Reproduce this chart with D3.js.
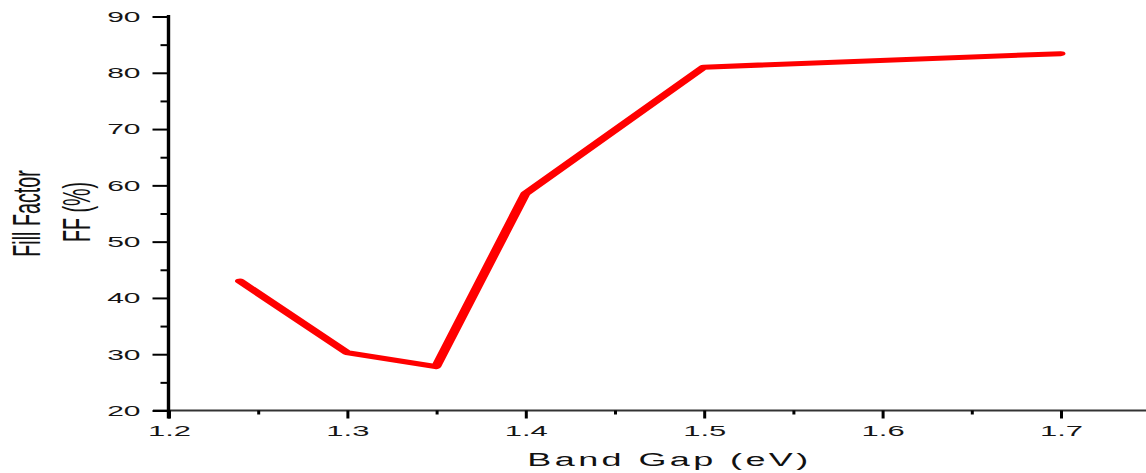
<!DOCTYPE html>
<html>
<head>
<meta charset="utf-8">
<script src="https://cdn.jsdelivr.net/npm/d3@7"></script>
<style>
  body { margin: 0; background: #fff; }
  svg { display: block; }
  text { font-family: "Liberation Sans", Arial, sans-serif; }
</style>
</head>
<body>
<svg id="chart" width="1146" height="473"></svg>
<script>
// Fill factor vs. band gap
const bandGap    = [1.24, 1.30, 1.35, 1.40, 1.50, 1.70];
const fillFactor = [43.0, 30.3, 27.8, 58.5, 81.0, 83.4];

const xTicks      = [1.2, 1.3, 1.4, 1.5, 1.6, 1.7];
const xMinorTicks = [1.25, 1.35, 1.45, 1.55, 1.65, 1.75];
const yTicks      = [20, 30, 40, 50, 60, 70, 80, 90];
const yMinorTicks = [25, 35, 45, 55, 65, 75, 85];

const xTitle  = "Band Gap (eV)";
const yTitle1 = "Fill Factor";
const yTitle2 = "FF (%)";

const svg = d3.select("#chart");

// The plot is laid out at half width and stretched horizontally.
const stretch = 2;
const root = svg.append("g").attr("transform", `scale(${stretch},1)`);

const x = d3.scaleLinear().domain([1.2, 1.75]).range([84.25, 574.85]);
const y = d3.scaleLinear().domain([20, 90]).range([410.5, 16.5]);

// x axis baseline
root.append("line")
  .attr("x1", 76.5).attr("x2", 573)
  .attr("y1", y(20)).attr("y2", y(20))
  .attr("stroke", "#333").attr("stroke-width", 2);

// x axis ticks and labels
const xAxis = root.append("g")
  .attr("transform", `translate(0,${y(20)})`)
  .call(d3.axisBottom(x).tickValues(xTicks).tickSize(8).tickSizeOuter(0)
        .tickPadding(7).tickFormat(d3.format(".1f")));
xAxis.select(".domain").remove();
xAxis.selectAll(".tick line").attr("stroke", "#000").attr("stroke-width", 1.5);
xAxis.selectAll(".tick text")
  .attr("font-size", 15.5).attr("fill", "#151515")
  .style("font-family", '"Liberation Sans", Arial, sans-serif');

const xMinor = root.append("g")
  .attr("transform", `translate(0,${y(20)})`)
  .call(d3.axisBottom(x).tickValues(xMinorTicks).tickSize(4).tickSizeOuter(0).tickFormat(""));
xMinor.select(".domain").remove();
xMinor.selectAll(".tick line").attr("stroke", "#000").attr("stroke-width", 1.5);

// y axis ticks and labels
const yAxis = root.append("g")
  .attr("transform", `translate(${x(1.2)},0)`)
  .call(d3.axisLeft(y).tickValues(yTicks).tickSize(8).tickSizeOuter(0)
        .tickPadding(6).tickFormat(d3.format("d")));
yAxis.select(".domain").remove();
yAxis.selectAll(".tick line").attr("stroke", "#000").attr("stroke-width", 2);
yAxis.selectAll(".tick text")
  .attr("font-size", 15).attr("fill", "#151515")
  .style("font-family", '"Liberation Sans", Arial, sans-serif');

const yMinor = root.append("g")
  .attr("transform", `translate(${x(1.2)},0)`)
  .call(d3.axisLeft(y).tickValues(yMinorTicks).tickSize(4).tickSizeOuter(0).tickFormat(""));
yMinor.select(".domain").remove();
yMinor.selectAll(".tick line").attr("stroke", "#000").attr("stroke-width", 2);

// y axis line
root.append("line")
  .attr("x1", x(1.2)).attr("x2", x(1.2))
  .attr("y1", y(90) - 1.5).attr("y2", y(20) + 8)
  .attr("stroke", "#000").attr("stroke-width", 1.7);

// axis titles
root.append("text")
  .attr("x", 334.75).attr("y", 466.5)
  .attr("text-anchor", "middle")
  .attr("font-size", 18).attr("letter-spacing", 1.7)
  .attr("fill", "#111")
  .text(xTitle);

root.append("text")
  .attr("transform", `translate(20,213.5) rotate(-90)`)
  .attr("text-anchor", "middle")
  .attr("font-size", 19.7).attr("fill", "#111")
  .text(yTitle1);

root.append("text")
  .attr("transform", `translate(45,212) rotate(-90)`)
  .attr("text-anchor", "middle")
  .attr("font-size", 19.7).attr("fill", "#111")
  .text(yTitle2);

// data line
const points = bandGap.map((b, i) => [b, fillFactor[i]]);
root.append("path")
  .datum(points)
  .attr("fill", "none")
  .attr("stroke", "#ff0000")
  .attr("stroke-width", 5)
  .attr("stroke-linecap", "round")
  .attr("stroke-linejoin", "round")
  .attr("d", d3.line().x(d => x(d[0])).y(d => y(d[1])));
</script>
</body>
</html>
